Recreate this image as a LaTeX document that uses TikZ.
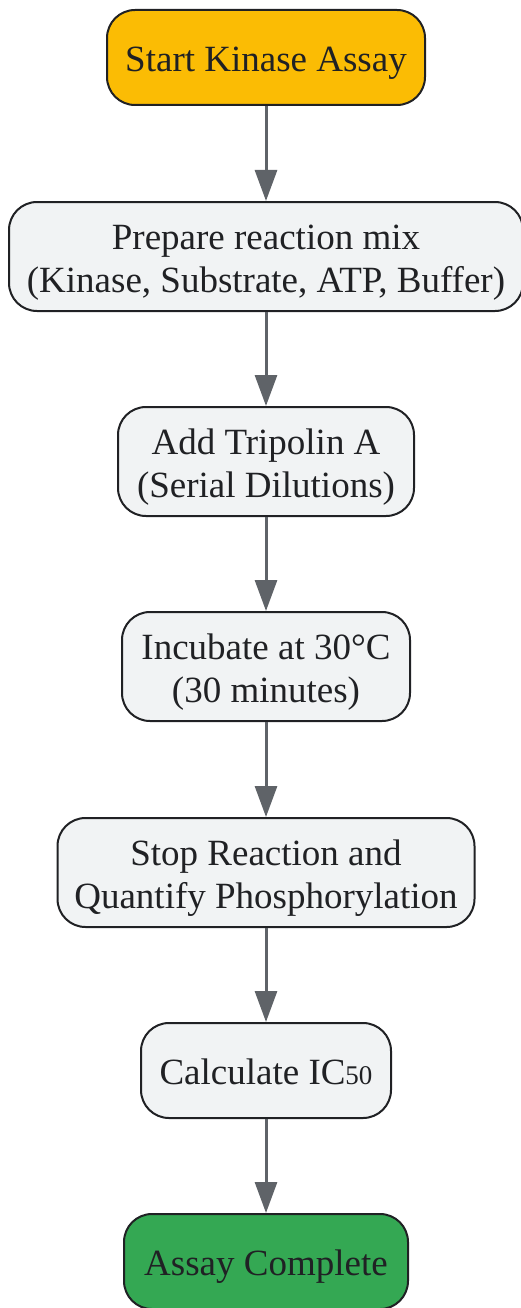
\documentclass[tikz,border=0pt]{standalone}
\usepackage{fontspec}
\setmainfont{Liberation Serif}
\usetikzlibrary{arrows.meta}

\definecolor{giallo}{HTML}{FBBC04}
\definecolor{grigio}{HTML}{F1F3F4}
\definecolor{verde}{HTML}{34A853}
\definecolor{bordo}{HTML}{202124}
\definecolor{freccia}{HTML}{5F6368}

\tikzset{
  passo/.style={draw=bordo, line width=2pt, fill=grigio, rounded corners=28pt,
    align=center, text=bordo, inner sep=0pt, minimum height=109pt,
    text height=28pt, text depth=0pt,
    font=\fontsize{37}{43}\selectfont},
  duerighe/.style={text height=71pt},
  collega/.style={-{Triangle[length=31pt,width=22pt]}, draw=freccia, fill=freccia,
    line width=3pt}
}

\begin{document}
\begin{tikzpicture}[x=1pt, y=1pt]

\useasboundingbox (0,0) rectangle (520,-1308);

% Inizio e fine
\node[passo, fill=giallo, minimum width=318pt, minimum height=95pt] (inizio) at (266,-57.5) {Start Kinase Assay};
\node[passo, fill=verde, minimum width=284pt, minimum height=95pt] (fine) at (266,-1261.5) {Assay Complete};

% Passi del saggio
\node[passo, duerighe, minimum width=514pt] (miscela) at (266,-256.5) {Prepare reaction mix\\(Kinase, Substrate, ATP, Buffer)};
\node[passo, duerighe, minimum width=296pt] (tripolin) at (266,-461.5) {Add Tripolin A\\(Serial Dilutions)};
\node[passo, duerighe, minimum width=288pt] (incuba) at (266,-666.5) {Incubate at 30°C\\(30 minutes)};
\node[passo, duerighe, minimum width=417pt] (stop) at (266,-872.5) {Stop Reaction and\\Quantify Phosphorylation};
\node[passo, minimum width=250pt, minimum height=95pt] (calcolo) at (266,-1070.5) {Calculate IC{\fontsize{27}{27}\selectfont 50}};

% Frecce
\draw[collega] (inizio) -- (miscela);
\draw[collega] (miscela) -- (tripolin);
\draw[collega] (tripolin) -- (incuba);
\draw[collega] (incuba) -- (stop);
\draw[collega] (stop) -- (calcolo);
\draw[collega] (calcolo) -- (fine);

\end{tikzpicture}
\end{document}
